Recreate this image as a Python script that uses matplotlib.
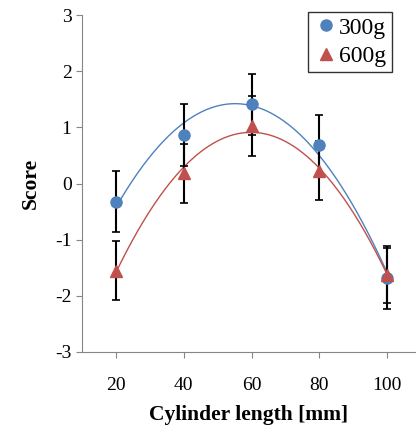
import numpy as np
import matplotlib
matplotlib.use("Agg")
import matplotlib.pyplot as plt

# ---- data ----
lengths = [20, 40, 60, 80, 100]
score_300 = [-0.32, 0.86, 1.41, 0.69, -1.69]
err_300 = [0.55, 0.55, 0.55, 0.54, 0.55]
score_600 = [-1.55, 0.18, 1.03, 0.23, -1.62]
err_600 = [0.52, 0.53, 0.53, 0.52, 0.50]

BLUE = "#4F81BD"
RED = "#C0504D"

plt.rcParams["font.family"] = ["Liberation Serif", "DejaVu Serif"]
plt.rcParams["axes.unicode_minus"] = False

fig = plt.figure(figsize=(4.16, 4.34), dpi=100)
ax = fig.add_axes([0.197, 0.189, 0.803, 0.776])

# polynomial (order 2) trendlines, like Excel
xs = np.linspace(20, 100, 200)
for y, c in [(score_300, BLUE), (score_600, RED)]:
    p = np.polyfit(lengths, y, 2)
    ax.plot(xs, np.polyval(p, xs), color=c, lw=1.0, zorder=2)

ax.errorbar(lengths, score_300, yerr=err_300, fmt="none", ecolor="black",
            elinewidth=1.5, capsize=3, capthick=1.2, zorder=3)
ax.errorbar(lengths, score_600, yerr=err_600, fmt="none", ecolor="black",
            elinewidth=1.5, capsize=3, capthick=1.2, zorder=3)

ax.plot(lengths, score_300, "o", color=BLUE, ms=8, label="300g", zorder=4)
ax.plot(lengths, score_600, "^", color=RED, ms=8, label="600g", zorder=4)

ax.set_xlim(10, 108.5)
ax.set_ylim(-3, 3)
ax.set_xticks(lengths)
ax.set_yticks(range(-3, 4))

for s in ["top", "right"]:
    ax.spines[s].set_visible(False)
for s in ["left", "bottom"]:
    ax.spines[s].set_color("#868686")
ax.tick_params(axis="both", colors="#868686", labelcolor="black",
               labelsize=14, length=4, direction="out")
ax.tick_params(axis="x", pad=14)

ax.set_xlabel("Cylinder length [mm]", fontsize=15.5, fontweight="bold", labelpad=8)
ax.set_ylabel("Score", fontsize=15.5, fontweight="bold", labelpad=10)

leg = ax.legend(loc="upper right", bbox_to_anchor=(0.962, 1.045), fontsize=17,
                frameon=True, fancybox=False, handletextpad=0.0,
                handlelength=1.1, borderpad=0.22, labelspacing=0.3)
leg.get_frame().set_edgecolor("black")
leg.get_frame().set_linewidth(1.0)

fig.savefig("out.png", dpi=100)
